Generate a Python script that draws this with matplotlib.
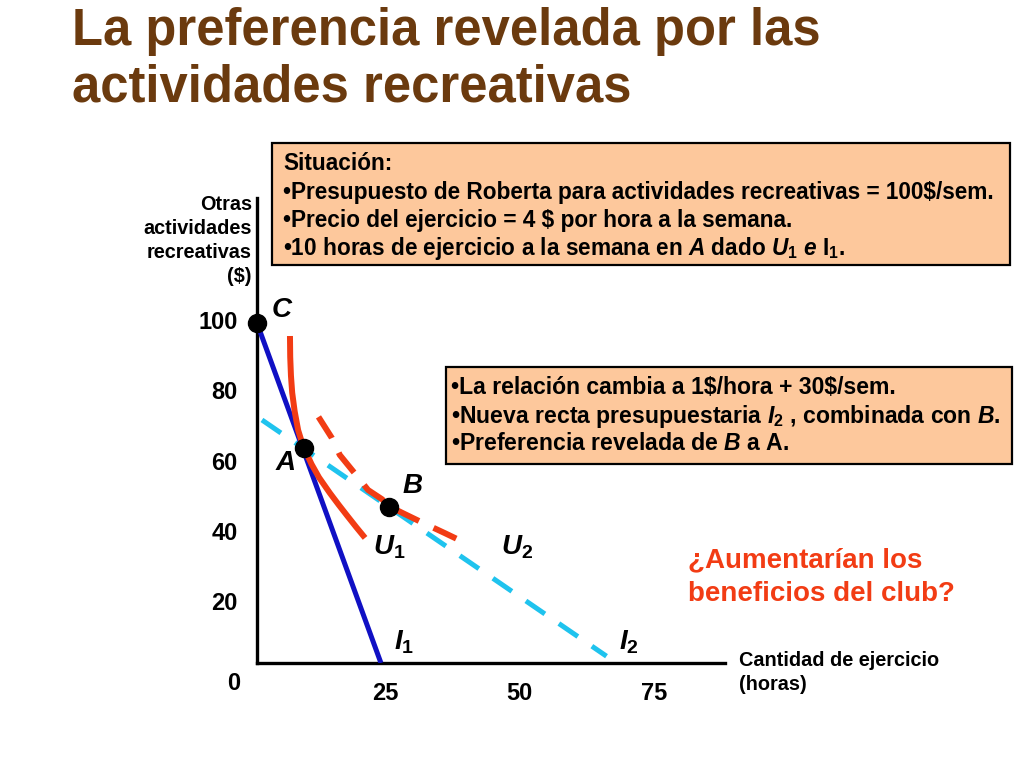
import matplotlib
matplotlib.use("Agg")
import matplotlib.pyplot as plt
from matplotlib.patches import Rectangle

plt.rcParams['font.family'] = ['Liberation Sans', 'DejaVu Sans']
plt.rcParams['font.weight'] = 'bold'
plt.rcParams['mathtext.fontset'] = 'custom'
plt.rcParams['mathtext.rm'] = 'Liberation Sans:bold'
plt.rcParams['mathtext.it'] = 'Liberation Sans:bold:italic'
plt.rcParams['mathtext.bf'] = 'Liberation Sans:bold'

# budget lines
i1_x = [0, 25]
i1_y = [100, 0]
i2_x = [1.0, 70.5]
i2_y = [71.5, 2.0]

# indifference curves
u1_x = [6.65, 6.7, 6.85, 7.1, 7.6, 8.3, 9.0, 9.8, 11.0, 12.5, 14.7, 16.5, 18.1, 20.0, 21.8]
u1_y = [96.2, 90.0, 84.5, 79.5, 74.0, 68.5, 65.2, 62.3, 58.5, 54.6, 50.0, 46.5, 43.5, 40.0, 36.8]
u2_x = [12.4, 15.1, 16.7, 20.0, 22.4, 25.2, 26.8, 29.4, 33.5, 37.9, 42.9]
u2_y = [72.4, 66.2, 61.2, 55.3, 50.9, 48.2, 46.0, 44.1, 41.2, 38.2, 34.7]

# points C, A, B
pt_names = ['C', 'A', 'B']
pt_x = [0, 9.5, 26.6]
pt_y = [100, 63.2, 45.9]

xtick_pos = [25.8, 53.0, 80.2]
xtick_labels = ['25', '50', '75']
ytick_pos = [18.2, 38.8, 59.4, 80.3, 100.9]
ytick_labels = ['20', '40', '60', '80', '100']

title_lines = ["La preferencia revelada por las", "actividades recreativas"]
box1_lines = [
    "Situación:",
    r"•Presupuesto de Roberta para actividades recreativas = 100\$/sem.",
    r"•Precio del ejercicio = 4 \$ por hora a la semana.",
    r"•10 horas de ejercicio a la semana en $\mathit{A}$ dado $\mathit{U}_\mathit{1}$ $\mathit{e}$ I$_\mathrm{1}$.",
]
box2_lines = [
    r"•La relación cambia a 1\$/hora + 30\$/sem.",
    r"•Nueva recta presupuestaria $\mathit{I}_\mathit{2}$ , combinada con $\mathit{B.}$",
    r"•Preferencia revelada de $\mathit{B}$ a A.",
]
question_lines = ["¿Aumentarían los", "beneficios del club?"]

BROWN = "#6b3a0e"
PEACH = "#fdc89c"
RED = "#f23c14"
BLUE = "#1010c4"
CYAN = "#1fc3ee"

fig = plt.figure(figsize=(10.24, 7.68), dpi=100)

# overlay in pixel coordinates for slide text
ov = fig.add_axes([0, 0, 1, 1])
ov.set_xlim(0, 1024)
ov.set_ylim(768, 0)
ov.axis('off')

ax = fig.add_axes([257 / 1024, 105 / 768, 468 / 1024, 465 / 768])
ax.patch.set_visible(False)
ax.set_xlim(0, 94.4)
ax.set_ylim(0, 136.8)
for s in ['top', 'right']:
    ax.spines[s].set_visible(False)
for s in ['left', 'bottom']:
    ax.spines[s].set_linewidth(2.4)
ax.set_xticks(xtick_pos, xtick_labels)
ax.set_yticks(ytick_pos, ytick_labels)
ax.tick_params(length=0, labelsize=17, pad=14)
for lab in ax.get_xticklabels() + ax.get_yticklabels():
    lab.set_fontweight('bold')
ax.text(-4.7, -6, "0", fontsize=17, ha='center', va='center')

ax.plot(i1_x, i1_y, color=BLUE, lw=3.6, solid_capstyle='butt', zorder=3)
ax.plot(i2_x, i2_y, color=CYAN, lw=3.6, ls=(0, (4.6, 3.4)), zorder=2)
ax.plot(u1_x, u1_y, color=RED, lw=4.3, solid_capstyle='butt', zorder=4)
ax.plot(u2_x, u2_y, color=RED, lw=4.3, ls=(0, (4.2, 2.7)), zorder=4)
ax.plot(pt_x, pt_y, 'o', color='black', ms=13, zorder=6, clip_on=False)

lab_kw = dict(fontsize=20, ha='left', va='center')
ax.text(2.9, 103.8, r"$\mathit{C}$", **lab_kw)
ax.text(3.6, 58.8, r"$\mathit{A}$", **lab_kw)
ax.text(29.2, 52.1, r"$\mathit{B}$", **lab_kw)
ax.text(23.3, 34.0, r"$\mathit{U}_\mathrm{1}$", **lab_kw)
ax.text(49.2, 34.0, r"$\mathit{U}_\mathrm{2}$", **lab_kw)
ax.text(27.6, 6.0, r"$\mathit{I}_\mathrm{1}$", **lab_kw)
ax.text(73.0, 6.0, r"$\mathit{I}_\mathrm{2}$", **lab_kw)

ov.text(72, 45, title_lines[0], color=BROWN, fontsize=36.5, va='baseline')
ov.text(72, 102, title_lines[1], color=BROWN, fontsize=36.5, va='baseline')

ov.add_patch(Rectangle((272, 143), 738, 122, facecolor=PEACH, edgecolor='black', lw=1.6))
for i, line in enumerate(box1_lines):
    ov.text(283, 164 + 28.3 * i, line, fontsize=16.3, va='center')

ov.add_patch(Rectangle((446, 367), 566, 97, facecolor=PEACH, edgecolor='black', lw=1.6))
for i, line in enumerate(box2_lines):
    ov.text(451, 388 + 28 * i, line, fontsize=16.6, va='center')

for i, line in enumerate(question_lines):
    ov.text(688, 560 + 34 * i, line, color=RED, fontsize=20, va='center')

for i, line in enumerate(["Otras", "actividades", "recreativas", r"(\$)"]):
    ov.text(252, 204 + 24 * i, line, fontsize=14.3, ha='right', va='center')
for i, line in enumerate(["Cantidad de ejercicio", "(horas)"]):
    ov.text(739, 660 + 25 * i, line, fontsize=14.3, ha='left', va='center')

fig.savefig("out.png", dpi=100)
